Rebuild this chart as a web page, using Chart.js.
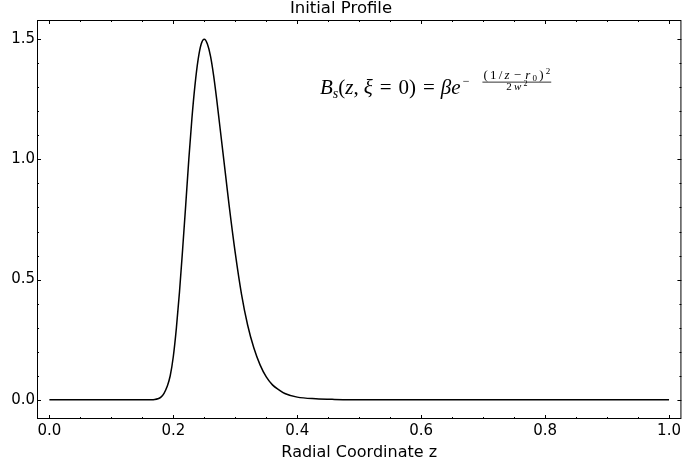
<!DOCTYPE html>
<html>
<head>
<meta charset="utf-8">
<script src="https://cdn.jsdelivr.net/npm/chart.js@4.4.1/dist/chart.umd.min.js"></script>
<style>
  html, body { margin: 0; padding: 0; background: #fff; }
</style>
</head>
<body>
<canvas id="profile" width="684" height="468"></canvas>
<script>
/* Initial profile B_s(z, xi = 0) */

// radial coordinate z (denser near the peak)
const zValues = [0.00, 0.05, 0.10, 0.15, 0.165, 0.17, 0.175, 0.18, 0.185, 0.19, 0.195,
  0.20, 0.205, 0.21, 0.215, 0.22, 0.225, 0.23, 0.235, 0.24, 0.245, 0.25, 0.255, 0.26,
  0.265, 0.27, 0.275, 0.28, 0.285, 0.29, 0.30, 0.31, 0.32, 0.33, 0.34, 0.35, 0.36, 0.37,
  0.38, 0.40, 0.43, 0.46, 0.50, 0.60, 0.70, 0.80, 0.90, 1.00];

// B_s values at those z
const bValues = [0, 0, 0, 0, 0.000, 0.001, 0.004, 0.011, 0.027, 0.055, 0.10,
  0.18, 0.30, 0.45, 0.625, 0.81, 1.00, 1.17, 1.31, 1.415, 1.48, 1.50, 1.48, 1.43,
  1.35, 1.25, 1.14, 1.03, 0.92, 0.81, 0.61, 0.44, 0.31, 0.215, 0.145, 0.095, 0.062, 0.042,
  0.026, 0.011, 0.004, 0.0015, 0.0005, 0, 0, 0, 0, 0];

// tick labels
const xTickValues = [0.0, 0.2, 0.4, 0.6, 0.8, 1.0];
const yTickValues = [0.0, 0.5, 1.0, 1.5];

const sans = '"DejaVu Sans", Verdana, sans-serif';
const serif = '"Liberation Serif", "DejaVu Serif", serif';

// Frame with inward major/minor ticks on all four sides
const frameTicks = {
  id: 'frameTicks',
  afterDraw(chart) {
    const { ctx, chartArea: a, scales: { x, y } } = chart;
    ctx.save();
    ctx.strokeStyle = '#000';
    ctx.lineWidth = 1;
    ctx.strokeRect(a.left + 0.5, a.top + 0.5, a.right - a.left - 1, a.bottom - a.top - 1);
    ctx.beginPath();
    for (let i = 0; i <= 20; i++) {
      const px = Math.round(x.getPixelForValue(i * 0.05)) + 0.5;
      const len = i % 4 === 0 ? 4 : 2;
      ctx.moveTo(px, a.bottom); ctx.lineTo(px, a.bottom - len);
      ctx.moveTo(px, a.top); ctx.lineTo(px, a.top + len);
    }
    for (let i = 0; i <= 15; i++) {
      const py = Math.round(y.getPixelForValue(i * 0.1)) + 0.5;
      const len = i % 5 === 0 ? 4 : 2;
      ctx.moveTo(a.left, py); ctx.lineTo(a.left + len, py);
      ctx.moveTo(a.right, py); ctx.lineTo(a.right - len, py);
    }
    ctx.stroke();
    ctx.restore();
  }
};

// Formula annotation
const equation = {
  id: 'equation',
  afterDraw(chart) {
    const ctx = chart.ctx;
    const it = s => `italic ${s}px ${serif}`;
    const rm = s => `${s}px ${serif}`;
    const base = 94;
    let x = 320;
    let sp = 0; // extra spacing after each glyph
    const put = (t, f, dy = 0) => {
      ctx.font = f;
      ctx.fillText(t, x, base + dy);
      x += ctx.measureText(t).width + sp;
    };
    ctx.save();
    ctx.fillStyle = '#000';
    ctx.textAlign = 'left';
    ctx.textBaseline = 'alphabetic';
    put('B', it(21)); put('s', it(14), 4); put('(', rm(21)); put('z', it(21));
    put(',', rm(21)); x += 5; put('ξ', it(21)); x += 7; put('=', rm(21)); x += 7;
    put('0', rm(21)); put(')', rm(21)); x += 7; put('=', rm(21)); x += 6;
    put('β', it(21)); put('e', it(21));
    x += 2;
    put('−', rm(12), -9);
    x += 14;
    // numerator
    sp = 2.2;
    const numStart = x;
    put('(', rm(13), -15); put('1', rm(13), -15); put('/', rm(13), -15); put('z', it(13), -15);
    x += 2; put('−', rm(13), -15); x += 2; put('r', it(13), -15); put('0', rm(9), -13);
    put(')', rm(13), -15); put('2', rm(9), -20);
    const numEnd = x - sp;
    ctx.fillRect(numStart - 1, base - 12.3, numEnd - numStart + 2, 0.8);
    // denominator
    ctx.font = rm(11);
    const w2 = ctx.measureText('2').width;
    ctx.font = it(11);
    const ww = ctx.measureText('w').width;
    ctx.font = rm(8);
    const w3 = ctx.measureText('2').width;
    x = (numStart + numEnd) / 2 - (w2 + ww + w3 + 2 * sp) / 2;
    put('2', rm(11), -4); put('w', it(11), -4); put('2', rm(8), -8);
    ctx.restore();
  }
};

new Chart(document.getElementById('profile').getContext('2d'), {
  type: 'line',
  data: {
    datasets: [{
      data: zValues.map((z, i) => ({ x: z, y: bValues[i] })),
      borderColor: '#000',
      borderWidth: 1.5,
      pointRadius: 0,
      fill: false,
      cubicInterpolationMode: 'monotone'
    }]
  },
  options: {
    responsive: false,
    animation: false,
    devicePixelRatio: 1,
    layout: { padding: { left: 0, right: 2, top: 0, bottom: 0 } },
    plugins: {
      legend: { display: false },
      tooltip: { enabled: false },
      title: {
        display: true,
        text: 'Initial Profile',
        color: '#000',
        font: { family: sans, size: 16.5, weight: 'normal', lineHeight: 1 },
        padding: { top: 0, bottom: 3.5 }
      }
    },
    scales: {
      x: {
        type: 'linear',
        min: -0.02,
        max: 1.02,
        afterBuildTicks: axis => { axis.ticks = xTickValues.map(v => ({ value: v })); },
        afterFit: axis => { axis.height = 49; },
        grid: { display: false, drawTicks: false },
        border: { display: false },
        ticks: {
          color: '#000',
          padding: 3,
          maxRotation: 0,
          autoSkip: false,
          font: { family: sans, size: 15 },
          callback: v => v.toFixed(1)
        },
        title: {
          display: true,
          text: 'Radial Coordinate z',
          color: '#000',
          font: { family: sans, size: 16 },
          padding: { top: 0, bottom: 6 }
        }
      },
      y: {
        min: -0.08,
        max: 1.58,
        afterBuildTicks: axis => { axis.ticks = yTickValues.map(v => ({ value: v })); },
        afterFit: axis => { axis.width = 37; },
        grid: { display: false, drawTicks: false },
        border: { display: false },
        ticks: {
          color: '#000',
          padding: 2,
          font: { family: sans, size: 15 },
          callback: v => v.toFixed(1)
        }
      }
    }
  },
  plugins: [frameTicks, equation]
});
</script>
</body>
</html>
